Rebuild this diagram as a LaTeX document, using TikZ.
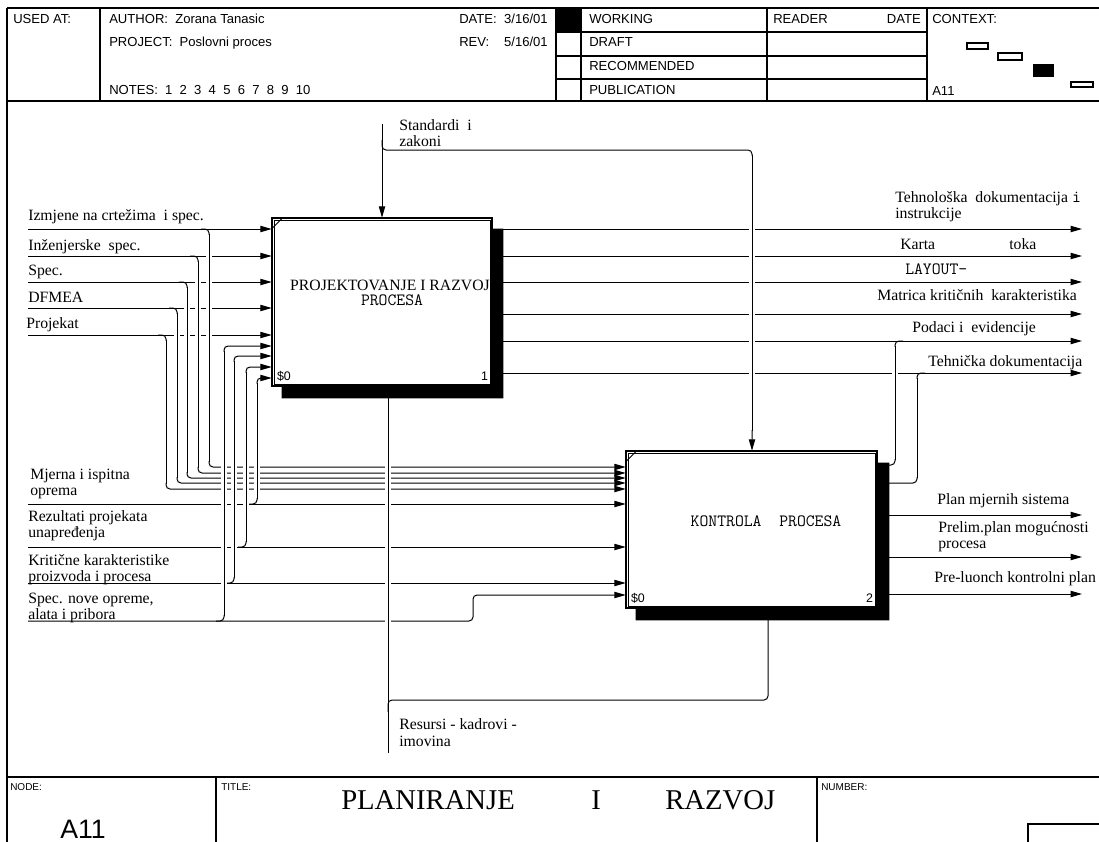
\documentclass[tikz,border=0pt]{standalone}
\usepackage{fontspec}
\setmainfont{Liberation Serif}
\newfontfamily\arialf{Liberation Sans}
\usetikzlibrary{arrows.meta,calc}
\begin{document}
\begin{tikzpicture}[x=0.75pt,y=-0.75pt,
  ln/.style={line width=0.75pt},
  arr/.style={ln,-{Triangle[length=8.5pt,width=4.7pt]}},
  halo/.style={draw=white,line width=5pt},
  fr/.style={line width=1pt},
  hdr/.style={font=\arialf\fontsize{9.8}{11}\selectfont,anchor=base west,inner sep=0pt},
  hdre/.style={hdr,anchor=base east},
  tiny/.style={font=\arialf\fontsize{7.5}{9}\selectfont,anchor=base west,inner sep=0pt},
  lbl/.style={font=\fontsize{11.8}{12}\selectfont,anchor=base west,inner sep=0pt},
  mono/.style={font=\ttfamily\fontsize{12.9}{13}\selectfont,inner sep=0pt},
  num/.style={font=\arialf\fontsize{9.3}{11}\selectfont,inner sep=0pt},
  boxnode/.style={draw=none,rectangle,inner sep=0pt},
  ttl/.style={font=\fontsize{21.5}{24}\selectfont,anchor=base west,inner sep=0pt}
]
\useasboundingbox (0,0) rectangle (1099,842);
\fill[white] (0,0) rectangle (1099,842);

% ---------- frame ----------
\draw[fr] (7,8) -- (1099,8);
\draw[fr] (7,8) -- (7,842);
\draw[fr] (7,101) -- (1099,101);
\foreach \x in {100,556,581,767,927} \draw[fr] (\x,8) -- (\x,101);
\foreach \y in {32,56,79} \draw[fr] (556,\y) -- (927,\y);
\fill (556,8) rectangle (581,32);
\draw[fr] (7,777) -- (1099,777);
\draw[fr] (216,777) -- (216,842);
\draw[fr] (817,777) -- (817,842);
\draw[fr] (1099,824) -- (1028,824) -- (1028,842);
% context
\draw[line width=0.8pt] (967,43) rectangle (988,49);
\draw[line width=0.8pt] (998,53) rectangle (1022,60);
\fill (1033,64) rectangle (1054,77);
\draw[line width=0.8pt] (1071,82) rectangle (1093,87);

% header texts
\node[hdr] (usedat) at (13,24) {USED AT:};
\node[hdr] (author) at (109,24) {AUTHOR:\ \ Zorana Tanasic};
\node[hdr] (project) at (109,47) {PROJECT:\ \ Poslovni proces};
\node[hdr] (notes) at (109,94) {NOTES:\ \ 1\ \ 2\ \ 3\ \ 4\ \ 5\ \ 6\ \ 7\ \ 8\ \ 9\ \ 10};
\node[hdr] (datel) at (459,24) {DATE:};
\node[hdre] (datev) at (548,24) {3/16/01};
\node[hdr] (revl) at (459,47) {REV:};
\node[hdre] (revv) at (548,47) {5/16/01};
\node[hdr] (working) at (589,24) {WORKING};
\node[hdr] (draft) at (589,47) {DRAFT};
\node[hdr] (recomm) at (589,70.5) {RECOMMENDED};
\node[hdr] (public) at (589,94) {PUBLICATION};
\node[hdr] (reader) at (773,24) {READER};
\node[hdre] (rdate) at (921,24) {DATE};
\node[hdr] (context) at (932,24) {CONTEXT:};
\node[hdr] (ctxnode) at (932,95) {A11};

% footer texts
\node[tiny] (nodel) at (10,790) {NODE:};
\node[tiny] (titlel) at (221,790) {TITLE:};
\node[tiny] (numberl) at (821,790) {NUMBER:};
\node[font=\arialf\fontsize{20}{22}\selectfont,anchor=base,inner sep=0pt] (nodev) at (83,838) {A11};
\node[ttl] (t1) at (341,809) {PLANIRANJE};
\node[ttl] (t2) at (591,809) {I};
\node[ttl] (t3) at (665,809) {RAZVOJ};

% ---------- boxes (positions) ----------
\node[boxnode,minimum width=165pt,minimum height=126pt] (p1) at (382,302) {};
\node[boxnode,minimum width=188.25pt,minimum height=117.75pt] (p2) at (751.5,529.5) {};

% ---------- coordinates ----------
\foreach \n/\y in {1/229,2/256,3/282,4/308,5/335,6/504,7/547,8/583,9/621}
  \coordinate (i\n) at (28,\y);
\foreach \n/\y in {1/229,2/256,3/282,4/314,5/341,6/373,7/515,8/557,9/594}
  \coordinate (o\n) at (1082,\y);
\coordinate (c1) at (382,124);
\coordinate (m1) at (388,753);

% ---------- connectors: layer 1 ----------
\foreach \n in {1,...,5} \draw[arr] (i\n) -- (p1.west |- i\n);
\foreach \yi/\xv/\yo in {229/209/467,256/198/473,282/187/478,308/177/483,335/166/489}
  \draw[arr,rounded corners=3pt] (\xv-8,\yi) -| (\xv,\yo) -- (p2.west |- 0,\yo);
\foreach \n in {6,7,8} \draw[arr] (i\n) -- (p2.west |- i\n);
\draw[arr,rounded corners=3pt] (i9) -| (473,595) -- (p2.west |- 0,595);
\foreach \yi/\xv/\yo in {504/257/378,547/246/367,583/234/356,621/224/346}
  \draw[arr,rounded corners=3pt] (\xv-8,\yi) -| (\xv,\yo) -- (p1.west |- 0,\yo);
% control
\draw[arr] (c1) -- (p1.north -| c1);
\draw[arr,rounded corners=3pt] (382,140) |- (752,150) -- (p2.north -| 752,0);
% mechanism
\draw[arr] (m1) -- (p1.south -| m1);
\draw[arr,rounded corners=3pt] (388,712) |- (768,700) -- (p2.south -| 768,0);
% outputs
\foreach \n in {1,...,6} \draw[arr] (p1.east |- o\n) -- (o\n);
\foreach \n in {7,8,9} \draw[arr] (p2.east |- o\n) -- (o\n);
\draw[ln,rounded corners=3pt] (p2.east |- 0,465) -| (895,341) -- (903,341);
\draw[ln,rounded corners=3pt] (p2.east |- 0,483) -| (917,373) -- (925,373);

% ---------- crossing gaps ----------
\foreach \x/\ya/\yb in {209/229/467,198/256/473,187/282/478,177/308/483,166/335/489,
  224/346/621,234/356/583,246/367/547,257/378/504,388/398/700,895/341/465,917/373/483}
  \draw[halo] (\x,\ya+6) -- (\x,\yb-6);
\draw[halo] (752,156) -- (752,430);
\foreach \x/\ya/\yb in {209/229/467,198/256/473,187/282/478,177/308/483,166/335/489,
  224/346/621,234/356/583,246/367/547,257/378/504,388/398/700,895/341/465,917/373/483}
  \draw[ln] (\x,\ya+5) -- (\x,\yb-5);
\draw[ln] (752,155) -- (752,431);

% ---------- boxes (drawing) ----------
\fill ($(p1.north east)+(0,11)$) -- ($(p1.north east)+(11,11)$) -- ($(p1.south east)+(11,12)$)
  -- ($(p1.south west)+(10,12)$) -- ($(p1.south west)+(10,0)$) -- (p1.south east) -- cycle;
\fill[white] (p1.south west) rectangle (p1.north east);
\draw[line width=1.2pt] (p1.south west) rectangle (p1.north east);
\draw[line width=0.4pt] ($(p1.south west)+(2.5,-2.5)$) rectangle ($(p1.north east)+(-2.5,2.5)$);
\draw[ln] ($(p1.north west)+(0,11)$) -- ($(p1.north west)+(11,0)$);
\node[num,anchor=base west] (p1id) at ($(p1.south west)+(5,-6)$) {\$0};
\node[num,anchor=base east] (p1no) at ($(p1.south east)+(-4,-6)$) {1};
\node[lbl,anchor=base] (p1t1) at (390,290) {PROJEKTOVANJE I RAZVOJ};
\node[mono,anchor=base] (p1t2) at (392,305) {PROCESA};

\fill ($(p2.north east)+(0,12)$) -- ($(p2.north east)+(12,12)$) -- ($(p2.south east)+(12,12)$)
  -- ($(p2.south west)+(10,12)$) -- ($(p2.south west)+(10,0)$) -- (p2.south east) -- cycle;
\fill[white] (p2.south west) rectangle (p2.north east);
\draw[line width=1.2pt] (p2.south west) rectangle (p2.north east);
\draw[line width=0.4pt] ($(p2.south west)+(2.5,-2.5)$) rectangle ($(p2.north east)+(-2.5,2.5)$);
\draw[ln] ($(p2.north west)+(0,11)$) -- ($(p2.north west)+(11,0)$);
\node[num,anchor=base west] (p2id) at ($(p2.south west)+(5,-6)$) {\$0};
\node[num,anchor=base east] (p2no) at ($(p2.south east)+(-4,-6)$) {2};
\node[mono,anchor=base] (p2t) at (766,526) {KONTROLA\ \ PROCESA};

% ---------- labels ----------
\node[lbl] at (28,220) {Izmjene na crtežima\ \ i spec.};
\node[lbl] at (28,250) {Inženjerske\ \ spec.};
\node[lbl] at (28,275) {Spec.};
\node[lbl] at (28,302) {DFMEA};
\node[lbl] at (26,328) {Projekat};
\node[lbl] at (30,479) {Mjerna i ispitna};
\node[lbl] at (30,495) {oprema};
\node[lbl] at (28,521) {Rezultati projekata};
\node[lbl] at (28,537) {unapređenja};
\node[lbl] at (28,565) {Kritične karakteristike};
\node[lbl] at (28,581) {proizvoda i procesa};
\node[lbl] at (28,603) {Spec. nove opreme,};
\node[lbl] at (28,619) {alata i pribora};

\node[lbl] at (895,202) {Tehnološka\ \ dokumentacija {\ttfamily\fontsize{12.9}{13}\selectfont i}};
\node[lbl] at (895,218) {instrukcije};
\node[lbl] at (900,249) {Karta};
\node[lbl] at (1009,249) {toka};
\node[mono,anchor=base west] at (905,274) {LAYOUT-};
\node[lbl] at (877,300) {Matrica kritičnih\ \ karakteristika};
\node[lbl] at (912,332) {Podaci i\ \ evidencije};
\node[lbl] at (928,366) {Tehnička dokumentacija};
\node[lbl] at (937,504) {Plan mjernih sistema};
\node[lbl] at (938,532) {Prelim.plan mogućnosti};
\node[lbl] at (938,548) {procesa};
\node[lbl] at (934,582) {Pre-luonch kontrolni plan};

\node[lbl] at (399,130) {Standardi\ \ i};
\node[lbl] at (399,146) {zakoni};
\node[lbl] at (399,729) {Resursi - kadrovi -};
\node[lbl] at (399,746) {imovina};
\end{tikzpicture}
\end{document}
